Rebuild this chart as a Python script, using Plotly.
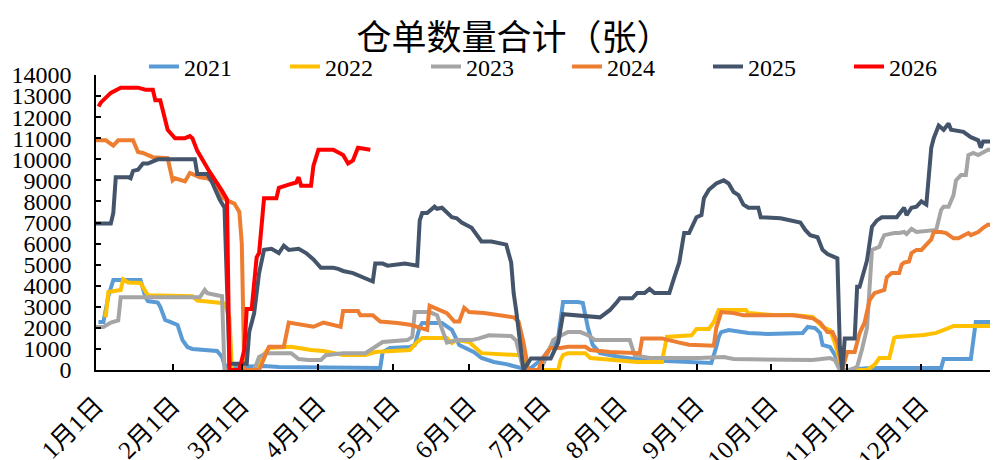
import pandas as pd
import plotly.graph_objects as go

# ---- data (day offset from 1 Jan, value) ----
years = ["2021", "2022", "2023", "2024", "2025", "2026"]
colors = ["#5B9BD5", "#FFC000", "#A5A5A5", "#ED7D31", "#44546A", "#FF0000"]

day_2021 = [1, 3, 5, 6, 7, 18, 20, 21, 25, 26, 28, 30, 33, 35, 37, 39, 49, 51, 52, 54, 68, 74, 111, 115, 116, 119, 127, 129, 131, 132, 140, 144, 147, 150, 153, 156, 161, 166, 170, 172, 175, 181, 184, 187, 189, 195, 197, 199, 201, 204, 212, 221, 243, 249, 251, 252, 253, 256, 264, 272, 286, 288, 291, 293, 294, 297, 299, 302, 304, 313, 342, 343, 354, 356, 365]
val_2021 = [2280, 2280, 3500, 3950, 4270, 4270, 3460, 3270, 3200, 3000, 2370, 2280, 2140, 1420, 1090, 1000, 900, 620, 240, 140, 190, 140, 140, 100, 850, 1040, 1090, 1190, 2040, 2230, 2230, 1900, 1190, 1040, 850, 570, 380, 280, 140, 100, 0, 570, 1090, 1520, 3230, 3230, 3180, 2040, 1190, 800, 620, 470, 380, 330, 1090, 1570, 1800, 1900, 1760, 1710, 1760, 2040, 1990, 1760, 1190, 1090, 710, 0, 0, 100, 100, 520, 520, 2280, 2280]

day_2022 = [3, 4, 5, 10, 11, 13, 18, 21, 39, 41, 49, 52, 54, 55, 65, 67, 70, 79, 87, 92, 100, 109, 113, 125, 127, 130, 132, 142, 144, 146, 151, 156, 170, 172, 174, 187, 188, 189, 191, 198, 200, 212, 219, 229, 230, 231, 241, 243, 248, 250, 252, 263, 264, 274, 282, 290, 294, 297, 299, 301, 302, 312, 315, 317, 321, 323, 324, 335, 340, 345, 347, 365]
val_2022 = [2600, 2600, 3700, 3800, 4300, 4150, 4130, 3550, 3500, 3300, 3200, 3150, 2500, 0, 0, 620, 1050, 1100, 950, 900, 710, 710, 850, 900, 950, 1330, 1520, 1520, 1280, 1420, 1330, 800, 710, 700, 0, 0, 470, 710, 800, 800, 570, 470, 380, 380, 950, 1570, 1650, 1950, 1950, 2280, 2850, 2850, 2700, 2610, 2610, 2520, 2040, 1900, 1280, 300, 0, 0, 240, 570, 570, 1520, 1570, 1660, 1760, 1990, 2090, 2090]

day_2023 = [0, 3, 6, 9, 10, 42, 44, 45, 49, 51, 52, 64, 66, 69, 79, 82, 86, 91, 93, 100, 109, 116, 126, 128, 129, 135, 138, 142, 146, 152, 155, 159, 168, 170, 173, 180, 185, 187, 191, 196, 199, 202, 216, 218, 224, 244, 254, 258, 290, 297, 299, 301, 305, 308, 310, 312, 314, 317, 318, 319, 323, 325, 327, 328, 330, 332, 340, 342, 343, 345, 347, 348, 350, 352, 353, 355, 357, 359, 361, 363, 365]
val_2023 = [2040, 2040, 2250, 2350, 3450, 3450, 3800, 3650, 3550, 3500, 0, 0, 620, 800, 800, 520, 470, 470, 700, 800, 800, 1330, 1420, 1570, 2750, 2750, 2600, 1300, 1420, 1420, 1500, 1650, 1610, 1400, 0, 0, 1420, 1570, 1800, 1800, 1660, 1420, 1420, 700, 570, 570, 620, 520, 470, 570, 470, 0, 0, 150, 1000, 2000, 5700, 5850, 6150, 6400, 6500, 6500, 6550, 6450, 6700, 6550, 6650, 7600, 7750, 7750, 8300, 9000, 9250, 9250, 10200, 10300, 10200, 10350, 10450, 10450, 10900]

day_2024 = [0, 4, 7, 9, 15, 17, 19, 23, 29, 31, 32, 36, 38, 42, 45, 49, 51, 53, 56, 58, 59, 60, 66, 70, 76, 78, 88, 92, 99, 100, 106, 107, 112, 115, 122, 127, 134, 135, 137, 139, 142, 145, 147, 149, 151, 157, 164, 169, 171, 173, 175, 179, 181, 184, 188, 191, 198, 200, 208, 216, 220, 221, 229, 236, 240, 250, 251, 253, 258, 262, 282, 285, 290, 293, 296, 298, 300, 302, 304, 307, 309, 311, 313, 315, 319, 320, 322, 325, 326, 327, 329, 330, 332, 334, 336, 338, 339, 342, 344, 347, 349, 351, 353, 354, 357, 359, 361, 365]
val_2024 = [10900, 10900, 10650, 10900, 10900, 10350, 10300, 10100, 10050, 9000, 9100, 8950, 9350, 9150, 9100, 8850, 8200, 8050, 7900, 7500, 6000, 0, 0, 1100, 1100, 2250, 2050, 2250, 2050, 2800, 2800, 2600, 2600, 2300, 2230, 2150, 1900, 3050, 2950, 2850, 2700, 2300, 2300, 2950, 2750, 2700, 2600, 2500, 2300, 1300, 0, 0, 600, 1050, 1050, 1100, 1100, 950, 850, 800, 800, 1500, 1500, 1300, 1200, 1150, 2000, 2750, 2700, 2600, 2600, 2550, 2450, 2250, 1800, 1800, 1300, 0, 850, 850, 1750, 2250, 3300, 3650, 3800, 4400, 4600, 4600, 5000, 5100, 5150, 5550, 5700, 5700, 5950, 6200, 6550, 6550, 6500, 6250, 6250, 6400, 6500, 6400, 6550, 6750, 6900, 6830]

day_2025 = [0, 6, 7, 8, 13, 14, 15, 17, 19, 21, 25, 40, 41, 45, 47, 50, 52, 54, 61, 62, 64, 66, 68, 71, 74, 76, 78, 82, 85, 88, 91, 96, 98, 100, 104, 108, 112, 113, 116, 118, 120, 125, 130, 131, 132, 134, 137, 138, 140, 144, 146, 148, 152, 154, 156, 160, 162, 166, 168, 169, 170, 172, 173, 176, 184, 187, 189, 204, 208, 211, 212, 217, 219, 222, 224, 226, 232, 234, 236, 238, 240, 243, 245, 246, 248, 251, 254, 256, 258, 260, 262, 264, 268, 269, 277, 285, 287, 289, 292, 294, 296, 300, 301, 302, 303, 307, 308, 309, 312, 314, 316, 318, 324, 327, 328, 330, 332, 334, 336, 338, 339, 341, 343, 345, 346, 351, 354, 357, 358, 359, 363, 364, 365]
val_2025 = [6950, 6950, 7450, 9150, 9150, 9100, 9450, 9500, 9800, 9800, 10000, 10000, 9300, 9300, 8900, 8100, 7700, 300, 300, 1800, 2700, 4600, 5700, 5750, 5550, 5900, 5700, 5750, 5550, 5250, 4850, 4850, 4800, 4700, 4600, 4400, 4200, 5050, 5050, 4950, 4980, 5050, 4950, 7100, 7450, 7450, 7750, 7650, 7700, 7250, 7200, 7000, 6750, 6400, 6100, 6100, 6050, 5950, 5100, 3650, 2850, 1100, 0, 550, 550, 1300, 2650, 2500, 2850, 3250, 3400, 3400, 3650, 3650, 3850, 3650, 3650, 4400, 5100, 6500, 6500, 7250, 7350, 8150, 8550, 8850, 9000, 8850, 8450, 8300, 7850, 7700, 7700, 7250, 7200, 7000, 6650, 6400, 6300, 5700, 5500, 5300, 1100, 0, 1500, 1500, 3950, 3950, 5200, 6800, 7100, 7250, 7250, 7700, 7350, 7700, 7750, 8000, 7850, 10550, 11000, 11600, 11400, 11700, 11400, 11300, 11050, 10900, 10550, 10850, 10850, 12450, 12450]

day_2026 = [1, 2, 6, 10, 17, 20, 23, 24, 26, 29, 32, 36, 38, 39, 41, 46, 51, 53, 54, 58, 60, 61, 63, 65, 66, 68, 73, 74, 78, 81, 82, 83, 87, 88, 90, 96, 100, 102, 104, 106, 111]
val_2026 = [12500, 12700, 13150, 13400, 13400, 13300, 13300, 12800, 12800, 11400, 11000, 11000, 11100, 11000, 10400, 9400, 8500, 8100, 0, 0, 950, 2900, 2900, 5350, 5550, 8150, 8150, 8650, 8800, 8900, 9150, 8750, 8750, 9700, 10450, 10450, 10200, 9800, 9950, 10550, 10450]

month_ticks = ["2026-%02d-01" % m for m in range(1, 13)]
month_labels = ["%d月1日" % m for m in range(1, 13)]

days = [day_2021, day_2022, day_2023, day_2024, day_2025, day_2026]
vals = [val_2021, val_2022, val_2023, val_2024, val_2025, val_2026]

base = pd.Timestamp("2026-01-01")
fig = go.Figure()
for name, c, d, v in zip(years, colors, days, vals):
    x = base + pd.to_timedelta(d, unit="D")
    fig.add_trace(go.Scatter(x=x, y=v, mode="lines", name=name,
                             line=dict(color=c, width=4)))

# the page body keeps its default 8px margin, so the figure is sized to fit
W, H = 990, 452
serif = "Liberation Serif, Noto Sans CJK SC, serif"
fig.update_layout(
    width=W, height=H,
    margin=dict(l=88, r=0, t=67, b=90, autoexpand=False),
    paper_bgcolor="white", plot_bgcolor="white",
    title=dict(text="仓单数量合计（张）", x=506 / W, xref="container", xanchor="center",
               y=1 - 30 / H, yref="container", yanchor="middle",
               font=dict(family="Noto Sans CJK SC", size=35, color="#000")),
    legend=dict(orientation="h", x=136 / W, xref="container", xanchor="left",
                y=1 - 59 / H, yref="container", yanchor="middle",
                entrywidth=96, entrywidthmode="pixels",
                font=dict(family=serif, size=24, color="#000"),
                bgcolor="rgba(0,0,0,0)", itemwidth=30),
    showlegend=True,
)
fig.update_xaxes(type="date", range=["2026-01-01", "2027-01-01"],
                 tickvals=month_ticks, ticktext=month_labels, tickangle=-45,
                 showgrid=False, showline=True, linecolor="#000", linewidth=1.5,
                 ticks="inside", ticklen=6, tickcolor="#000", tickwidth=1.5,
                 ticklabelstandoff=9,
                 tickfont=dict(family=serif, size=25, color="#000"), zeroline=False)
fig.update_yaxes(range=[0, 14000], dtick=1000, tick0=0, tickformat="d",
                 showgrid=False, showline=True, linecolor="#000", linewidth=1.5,
                 ticks="inside", ticklen=5, tickcolor="#000", tickwidth=1.5,
                 ticklabelstandoff=18,
                 tickfont=dict(family=serif, size=24, color="#000"), zeroline=False)

fig.write_html("out.html")
